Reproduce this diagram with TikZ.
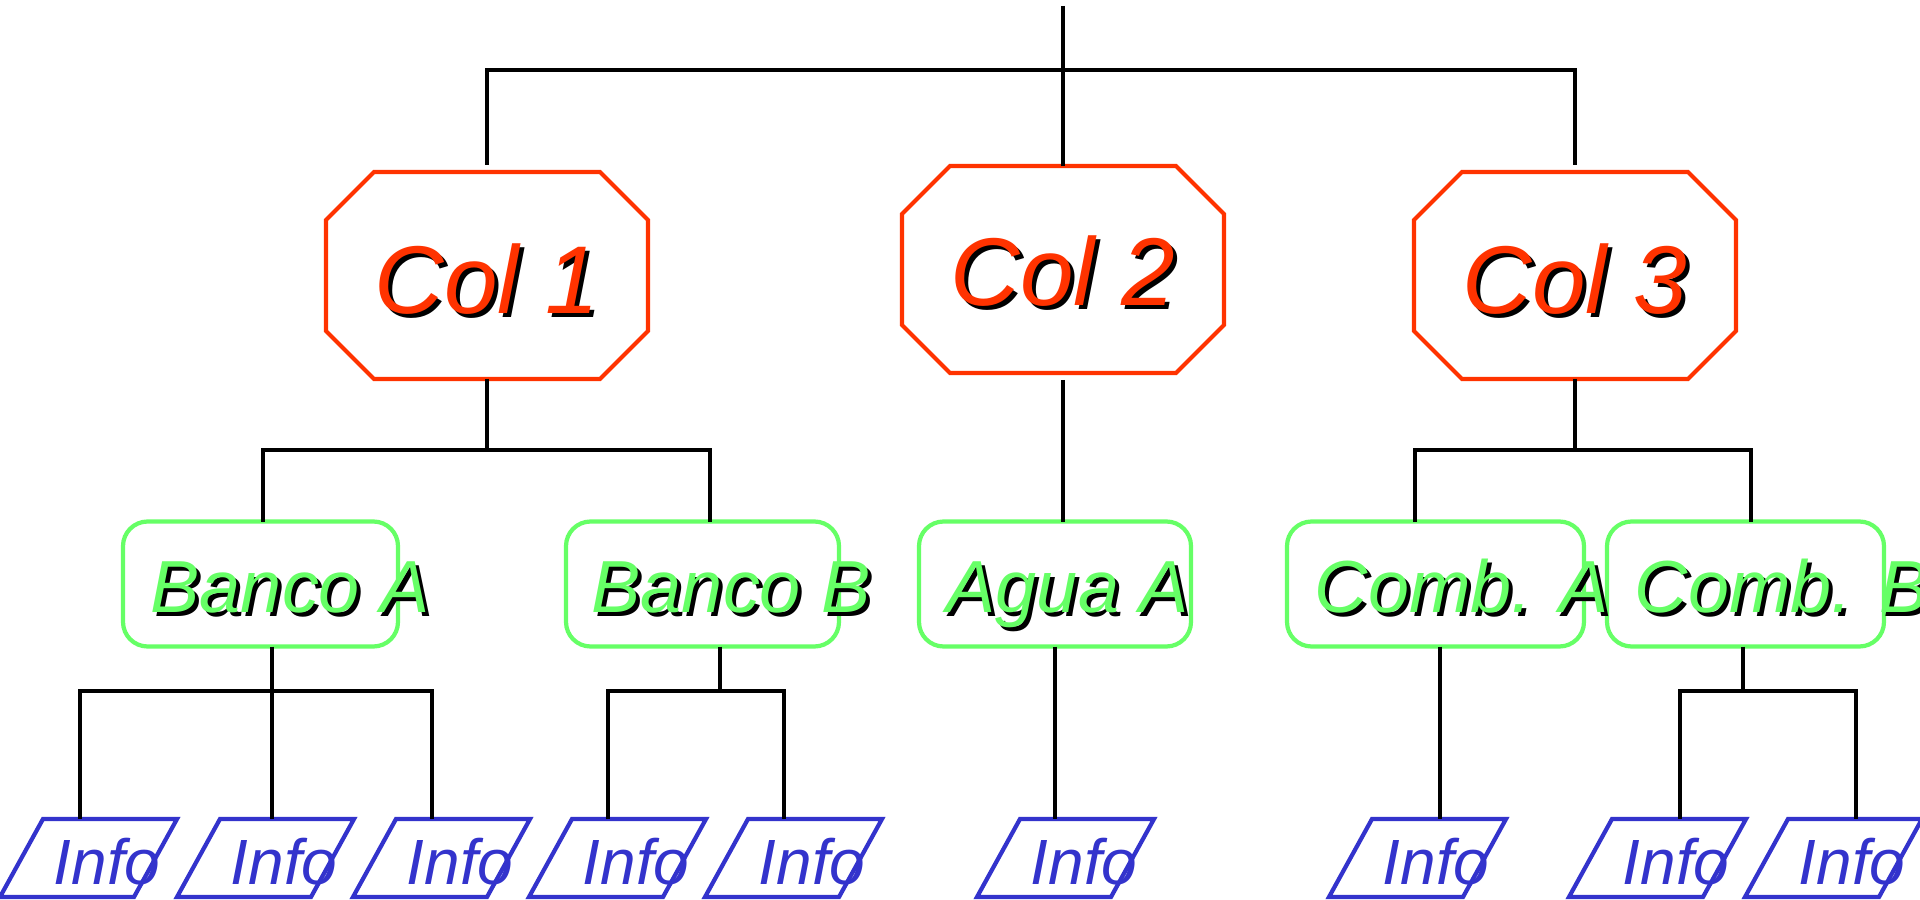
\documentclass[tikz,border=0pt]{standalone}
\usepackage{fontspec}
\setmainfont{Liberation Sans}
\definecolor{cred}{RGB}{255,51,0}
\definecolor{cgreen}{RGB}{102,255,102}
\definecolor{cblue}{RGB}{51,51,204}
\newcommand\shtext[2]{\makebox[0pt][l]{\kern0.4mm\raisebox{-0.4mm}{\color{black}#2}}{\color{#1}#2}}
\newcommand\octo[1]{\draw[colline] ([xshift=4.8mm]#1.north west) -- ([xshift=-4.8mm]#1.north east) -- ([yshift=-4.8mm]#1.north east) -- ([yshift=4.8mm]#1.south east) -- ([xshift=-4.8mm]#1.south east) -- ([xshift=4.8mm]#1.south west) -- ([yshift=4.8mm]#1.south west) -- ([yshift=-4.8mm]#1.north west) -- cycle;}
\newcommand\infoshape[1]{\draw[iline] ([xshift=4.3mm]#1.north west) -- (#1.north east) -- ([xshift=-4.3mm]#1.south east) -- (#1.south west) -- cycle;}
\begin{document}
\begin{tikzpicture}[x=0.1mm,y=-0.1mm]
\tikzset{
 conn/.style={draw=black,line width=1.2pt},
 colbox/.style={rectangle,draw=none,minimum width=32.2mm,minimum height=20.7mm,inner sep=0,outer sep=0},
 colline/.style={draw=cred,line width=1.2pt},
 coltext/.style={anchor=base,inner sep=0,font=\fontsize{27.4pt}{31pt}\selectfont\itshape},
 gbox/.style={rectangle,rounded corners=7pt,draw=cgreen,line width=1.2pt,minimum height=12.5mm,inner sep=0,outer sep=0},
 gtext/.style={anchor=base west,inner sep=0,font=\fontsize{21pt}{25pt}\selectfont\itshape},
 ibox/.style={rectangle,draw=none,minimum width=17.7mm,minimum height=7.8mm,inner sep=0,outer sep=0},
 iline/.style={draw=cblue,line width=1.2pt},
 itext/.style={anchor=base west,inner sep=0,text=cblue,font=\fontsize{18.2pt}{22pt}\selectfont\itshape},
}
\useasboundingbox (0,0) rectangle (1920,900);

% level 1 shapes
\node[colbox] (c1) at (487,275.5) {};
\node[colbox] (c2) at (1063,269.5) {};
\node[colbox] (c3) at (1575,275.5) {};
\octo{c1}\octo{c2}\octo{c3}

% level 2 boxes
\node[gbox,minimum width=27.5mm] (ba) at (260.5,584) {};
\node[gbox,minimum width=27.3mm] (bb) at (702.5,584) {};
\node[gbox,minimum width=27.2mm] (aa) at (1055,584) {};
\node[gbox,minimum width=29.7mm] (ca) at (1435.5,584) {};
\node[gbox,minimum width=27.7mm] (cb) at (1745.5,584) {};

% level 3 shapes
\node[ibox] (i1) at (88.5,858) {};
\node[ibox] (i2) at (265.5,858) {};
\node[ibox] (i3) at (441.5,858) {};
\node[ibox] (i4) at (617.5,858) {};
\node[ibox] (i5) at (793.5,858) {};
\node[ibox] (i6) at (1065.5,858) {};
\node[ibox] (i7) at (1417.5,858) {};
\node[ibox] (i8) at (1657.5,858) {};
\node[ibox] (i9) at (1833.5,858) {};
\infoshape{i1}\infoshape{i2}\infoshape{i3}\infoshape{i4}\infoshape{i5}
\infoshape{i6}\infoshape{i7}\infoshape{i8}\infoshape{i9}

% connectors: top
\coordinate (top) at (1063,6);
\coordinate (b0) at (1063,70);
\draw[conn] (top) -- (c2.north);
\draw[conn] ([yshift=0.7mm]c1.north) |- (b0 -| c3.north) -- ([yshift=0.7mm]c3.north);

% connectors: level 2
\coordinate (m1) at (487,450);
\coordinate (m1l) at (263,450);
\coordinate (m1r) at (710,450);
\draw[conn] (c1.south) -- (m1);
\draw[conn] (m1l |- ba.north) -- (m1l) -- (m1r) -- (m1r |- bb.north);
\draw[conn] ([yshift=-0.7mm]c2.south) -- (c2.south |- aa.north);
\coordinate (m3) at (1575,450);
\coordinate (m3l) at (1415,450);
\coordinate (m3r) at (1751,450);
\draw[conn] (c3.south) -- (m3);
\draw[conn] (m3l |- ca.north) -- (m3l) -- (m3r) -- (m3r |- cb.north);

% connectors: level 3
\coordinate (k1) at (272,691);
\coordinate (k1l) at (80,691);
\coordinate (k1r) at (432,691);
\draw[conn] (k1 |- ba.south) -- (k1 |- i2.north);
\draw[conn] (k1l |- i1.north) -- (k1l) -- (k1r) -- (k1r |- i3.north);
\coordinate (k2) at (720,691);
\coordinate (k2l) at (608,691);
\coordinate (k2r) at (784,691);
\draw[conn] (k2 |- bb.south) -- (k2);
\draw[conn] (k2l |- i4.north) -- (k2l) -- (k2r) -- (k2r |- i5.north);
\draw[conn] (aa.south) -- (aa.south |- i6.north);
\coordinate (k4) at (1440,691);
\draw[conn] (k4 |- ca.south) -- (k4 |- i7.north);
\coordinate (k5) at (1743,691);
\coordinate (k5l) at (1680,691);
\coordinate (k5r) at (1856,691);
\draw[conn] (k5 |- cb.south) -- (k5);
\draw[conn] (k5l |- i8.north) -- (k5l) -- (k5r) -- (k5r |- i9.north);

% texts
\node[coltext] (c1t) at (487,313) {\shtext{cred}{Col 1}};
\node[coltext] (c2t) at (1063,306) {\shtext{cred}{Col 2}};
\node[coltext] (c3t) at (1575,313) {\shtext{cred}{Col 3}};

\node[gtext] (bat) at (150,612) {\shtext{cgreen}{Banco A}};
\node[gtext] (bbt) at (591,612) {\shtext{cgreen}{Banco B}};
\node[gtext] (aat) at (946,612) {\shtext{cgreen}{Agua A}};
\node[gtext] (cat) at (1314,612) {\shtext{cgreen}{Comb. A}};
\node[gtext] (cbt) at (1634,612) {\shtext{cgreen}{Comb. B}};

\node[itext] (i1t) at (53,884) {Info};
\node[itext] (i2t) at (230,884) {Info};
\node[itext] (i3t) at (406,884) {Info};
\node[itext] (i4t) at (582,884) {Info};
\node[itext] (i5t) at (758,884) {Info};
\node[itext] (i6t) at (1030,884) {Info};
\node[itext] (i7t) at (1382,884) {Info};
\node[itext] (i8t) at (1622,884) {Info};
\node[itext] (i9t) at (1798,884) {Info};
\end{tikzpicture}
\end{document}
